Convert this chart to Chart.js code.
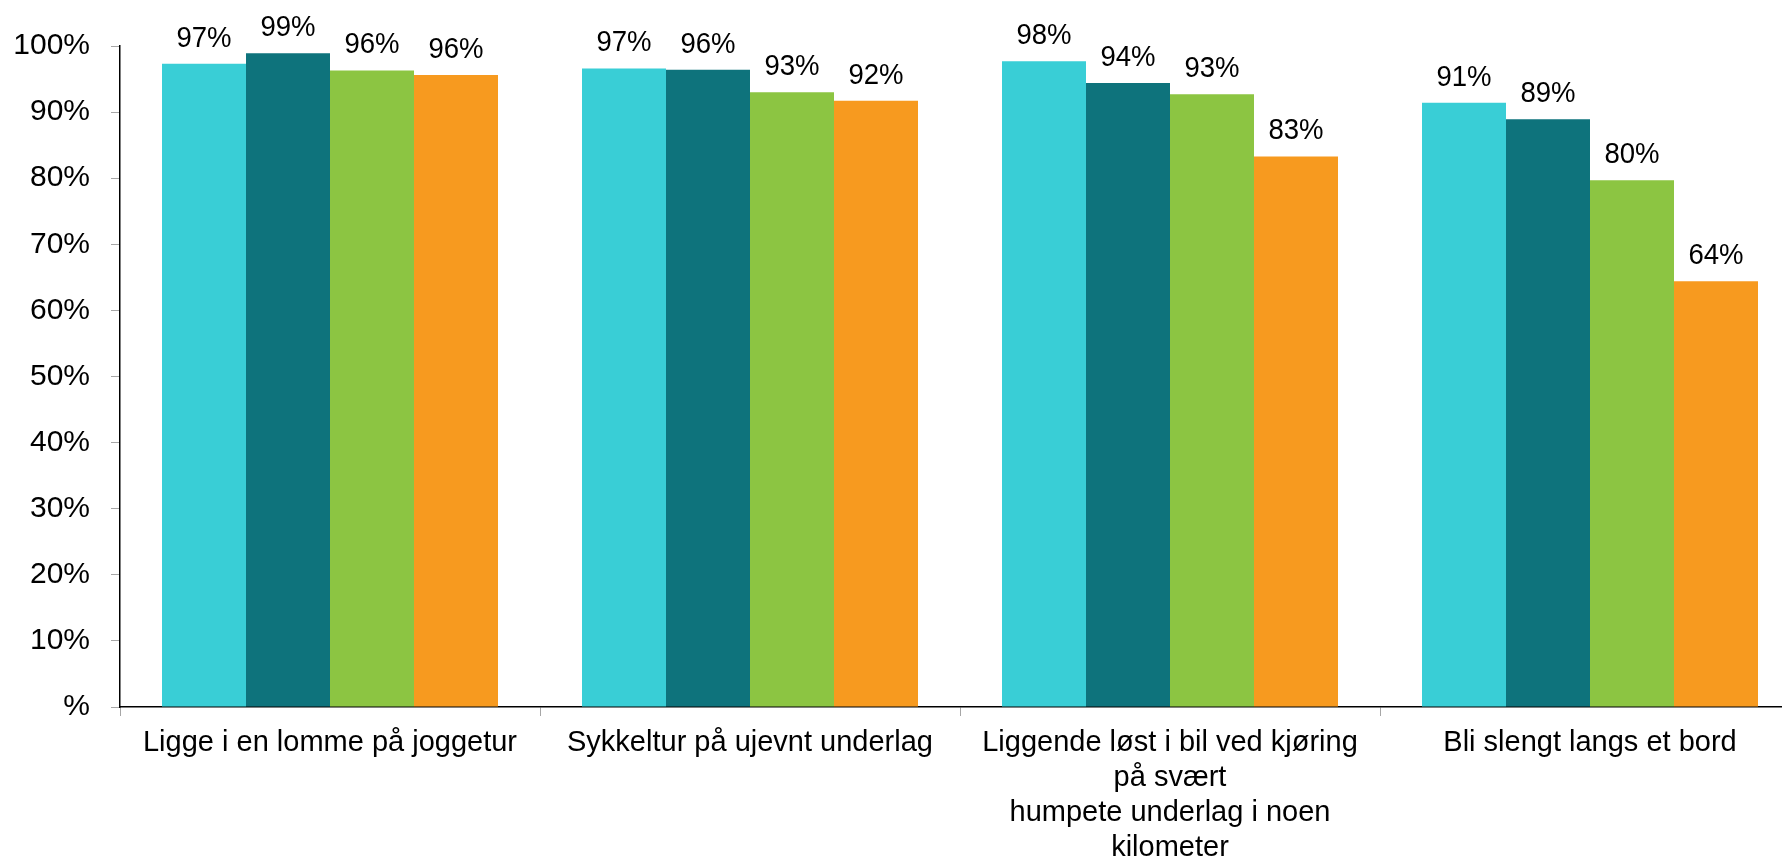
<!DOCTYPE html>
<html>
<head>
<meta charset="utf-8">
<script src="https://cdn.jsdelivr.net/npm/chart.js@4"></script>
<style>
  html, body { margin: 0; padding: 0; background: #fff; overflow: hidden; }
  #wrap { position: relative; width: 1800px; height: 856px; }
</style>
</head>
<body>
<div id="wrap"><canvas id="c"></canvas></div>
<script>
const categories = [
  'Ligge i en lomme på joggetur',
  'Sykkeltur på ujevnt underlag',
  ['Liggende løst i bil ved kjøring', 'på svært', 'humpete underlag i noen', 'kilometer'],
  'Bli slengt langs et bord'
];
const series1 = [97.3, 96.6, 97.7, 91.4];
const series2 = [98.9, 96.4, 94.4, 88.9];
const series3 = [96.3, 93.0, 92.7, 79.7];
const series4 = [95.6, 91.7, 83.3, 64.4];
const yTickLabels = ['%', '10%', '20%', '30%', '40%', '50%', '60%', '70%', '80%', '90%', '100%'];

const FONT = "'Liberation Sans', Arial, Helvetica, sans-serif";

const valueLabels = {
  id: 'valueLabels',
  afterDatasetsDraw(chart) {
    const ctx = chart.ctx;
    ctx.save();
    ctx.font = '29px ' + FONT;
    ctx.fillStyle = '#000';
    ctx.textAlign = 'center';
    ctx.textBaseline = 'alphabetic';
    chart.data.datasets.forEach((ds, di) => {
      const meta = chart.getDatasetMeta(di);
      meta.data.forEach((bar, i) => {
        ctx.save();
        ctx.translate(bar.x, bar.y - 17);
        ctx.scale(0.95, 1);
        ctx.fillText(Math.round(ds.data[i]) + '%', 0, 0);
        ctx.restore();
      });
    });
    ctx.restore();
  }
};

new Chart(document.getElementById('c'), {
  type: 'bar',
  data: {
    labels: categories,
    datasets: [
      { label: 'Serie 1', data: series1, backgroundColor: '#39CED6' },
      { label: 'Serie 2', data: series2, backgroundColor: '#0E737C' },
      { label: 'Serie 3', data: series3, backgroundColor: '#8CC542' },
      { label: 'Serie 4', data: series4, backgroundColor: '#F79A1F' }
    ]
  },
  options: {
    responsive: true,
    maintainAspectRatio: false,
    animation: false,
    layout: { padding: { top: 46, left: 0, right: 0, bottom: 0 } },
    datasets: { bar: { categoryPercentage: 0.8, barPercentage: 1.0, borderWidth: 0 } },
    plugins: { legend: { display: false }, tooltip: { enabled: false }, title: { display: false } },
    scales: {
      x: {
        grid: { display: true, drawOnChartArea: false, drawTicks: true, tickLength: 9, color: '#A6A6A6', offset: true },
        border: { display: true, color: '#000', width: 1.5 },
        ticks: {
          color: '#000', font: { family: FONT, size: 29, lineHeight: 1.2 },
          maxRotation: 0, minRotation: 0, autoSkip: false, padding: 10
        },
        afterFit(scale) { scale.height = 149; }
      },
      y: {
        min: 0, max: 100,
        grid: { display: true, drawOnChartArea: false, drawTicks: true, tickLength: 9, color: '#A6A6A6' },
        border: { display: true, color: '#000', width: 1.5 },
        ticks: {
          stepSize: 10, color: '#000', font: { family: FONT, size: 30 }, padding: 21,
          callback: (v, i) => yTickLabels[i]
        },
        afterFit(scale) { scale.width = 120; }
      }
    }
  },
  plugins: [valueLabels]
});
</script>
</body>
</html>
